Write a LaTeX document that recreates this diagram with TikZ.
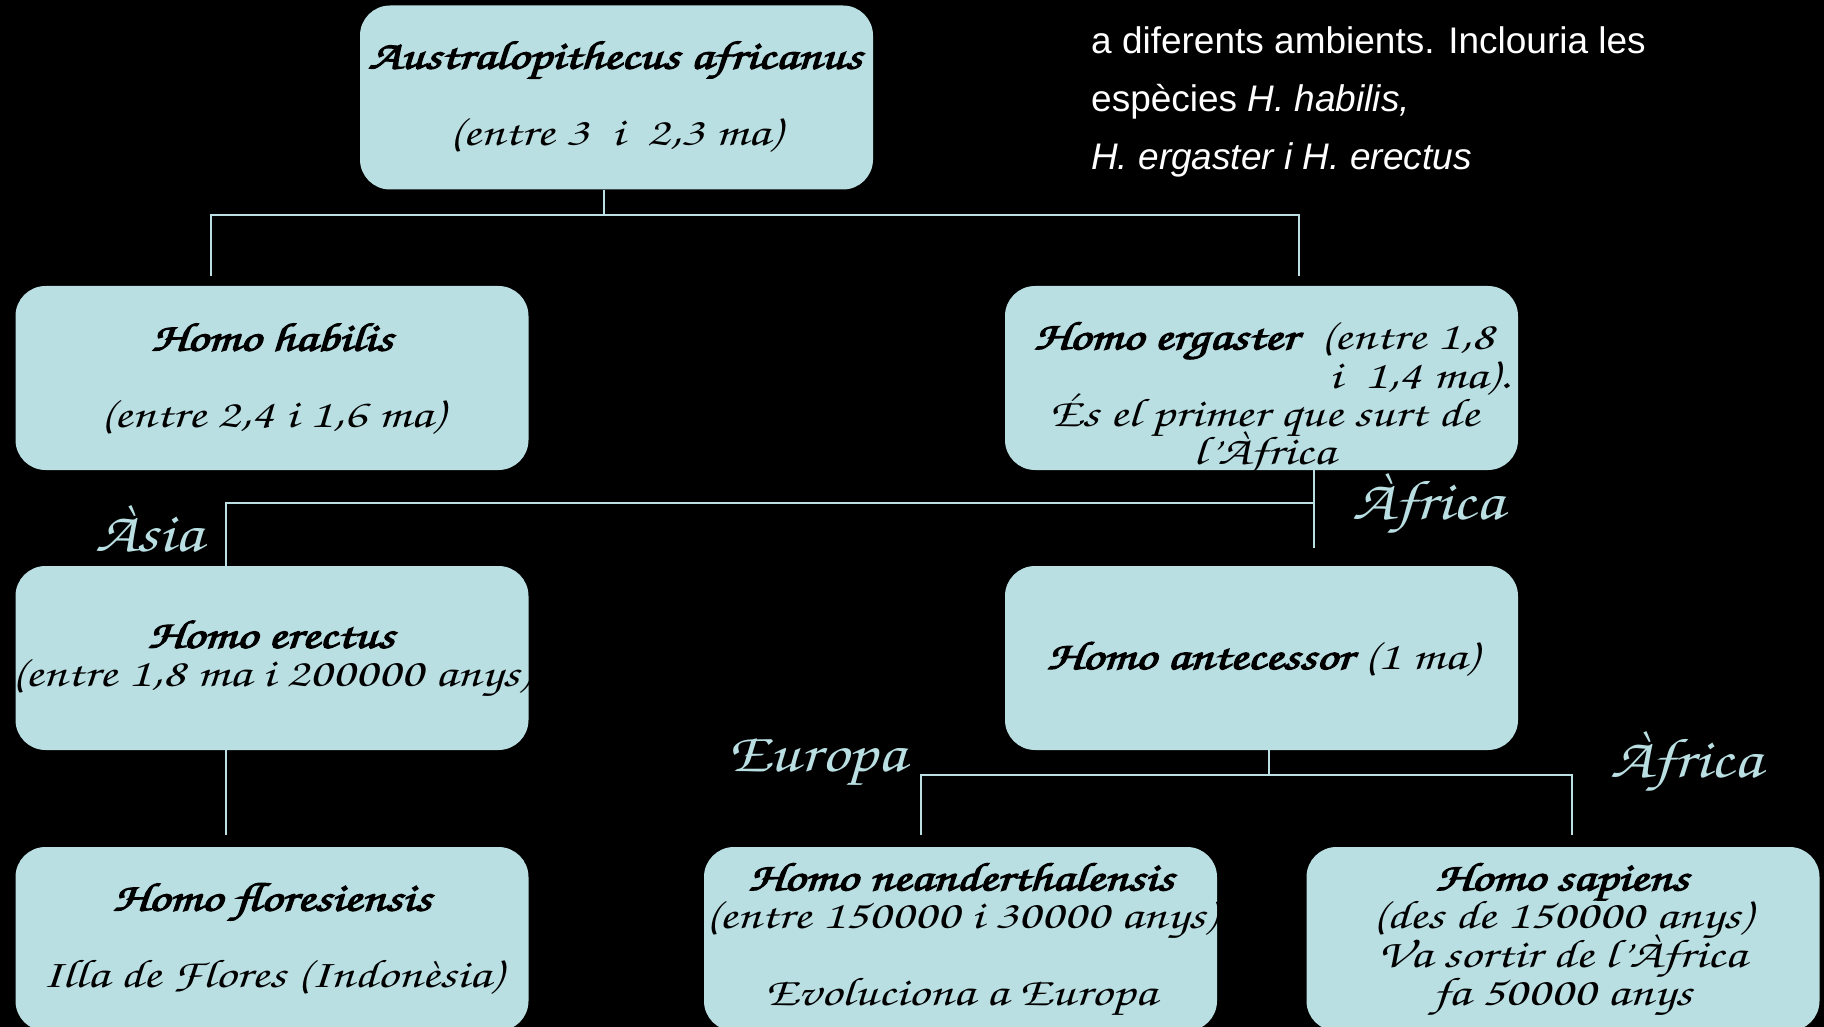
\documentclass[tikz,border=0pt]{standalone}
\usepackage[T1,TU]{fontenc}
\usepackage{fontspec}
\setmainfont{Liberation Sans}
\usepackage{graphicx}
\definecolor{lb}{RGB}{185,223,227}
\newcommand\hwfont{\usefont{T1}{pzc}{mb}{it}}
\newcommand\fb[1]{\special{pdf:literal direct 2 Tr 1.1 w}#1\special{pdf:literal direct 0 Tr}}
\newcommand\sx[1]{\scalebox{1.3}[1]{\vbox{\baselineskip=38.5pt\lineskiplimit=-200pt\lineskip=0pt\halign{\hfil##\hfil\cr#1\crcr}}}}
\newcommand\slab[1]{\scalebox{1.2}[1]{#1}}
\tikzset{
  box/.style={fill=lb, rounded corners=30pt, minimum width=513pt, minimum height=184pt, inner sep=0pt},
  conn/.style={draw=lb, line width=2pt},
  txt/.style={font={\fontsize{40}{38.5}\hwfont}, text=black, inner sep=0pt},
  lab/.style={font={\fontsize{56}{60}\hwfont}, text=lb, inner sep=0pt},
  rt/.style={font={\fontsize{37}{44}\selectfont}, text=white, inner sep=0pt}
}
\begin{document}
\begin{tikzpicture}[x=1pt,y=-1pt]
\fill[black] (0,0) rectangle (1824,1027);
\useasboundingbox (0,0) rectangle (1824,1027);

% boxes
\node[box] (austr) at (616.5,97.5) {};
\node[box] (habilis) at (272,378) {};
\node[box] (ergaster) at (1261.5,378) {};
\node[box] (erectus) at (272,658) {};
\node[box] (antecessor) at (1261.5,658) {};
\node[box] (flores) at (272,939) {};
\node[box] (neander) at (960.5,939) {};
\node[box] (sapiens) at (1563,939) {};

% texts
\node[txt] (taustr) at (615,97) {\sx{\fb{Australopithecus africanus}\cr\cr(entre 3\ \ i\ \ 2,3 ma)}};
\node[txt] (thabilis) at (272,379) {\sx{\fb{Homo habilis}\cr\cr(entre 2,4 i 1,6 ma)}};
\node[txt] (tergaster) at (1264,399) {\sx{\fb{Homo ergaster}\ \ (entre 1,8\cr\cr És el primer que surt de\cr l'Àfrica}};
\node[txt, anchor=mid east] (tergaster2) at (1510,386) {\sx{i\ \ 1,4 ma).}};
\node[txt] (terectus) at (271,659) {\sx{\fb{Homo erectus}\cr(entre 1,8 ma i 200000 anys)}};
\node[txt] (tantecessor) at (1262,659) {\sx{\fb{Homo antecessor} (1 ma)}};
\node[txt] (tflores) at (272,939) {\sx{\fb{Homo floresiensis}\cr\cr Illa de Flores (Indonèsia)}};
\node[txt] (tneander) at (961,940) {\sx{\fb{Homo neanderthalensis}\cr(entre 150000 i 30000 anys)\cr\cr Evoluciona a Europa}};
\node[txt] (tsapiens) at (1562,940) {\sx{\fb{Homo sapiens}\cr(des de 150000 anys)\cr Va sortir de l'Àfrica\cr fa 50000 anys}};

% connectors
\coordinate (a1) at (604,215);
\coordinate (h1) at (211,276);
\coordinate (h2) at (1299,276);
\draw[conn] (austr.south -| a1) -- (a1);
\draw[conn] (h1) |- (a1) -| (h2);

\coordinate (e1) at (1314,548);
\coordinate (e2) at (226,503);
\draw[conn] (ergaster.south -| e1) -- (e1);
\draw[conn] (e2 -| e1) -- (e2) -- (erectus.north -| e2);

\coordinate (f1) at (226,835);
\draw[conn] (erectus.south -| f1) -- (f1);

\coordinate (n0) at (1269,775);
\coordinate (n1) at (921,835);
\coordinate (n2) at (1572,835);
\draw[conn] (antecessor.south -| n0) -- (n0);
\draw[conn] (n1) |- (n0) -| (n2);

% labels
\node[lab] (lasia) at (149,528) {\slab{Àsia}};
\node[lab] (lafrica1) at (1428,505) {\slab{Àfrica}};
\node[lab] (leuropa) at (817,763) {\slab{Europa}};
\node[lab] (lafrica2) at (1686,763) {\slab{Àfrica}};

% right text
\node[rt, anchor=base west] (t1) at (1091,53.5) {a diferents ambients. Inclouria les};
\node[rt, anchor=base west] (t2) at (1091,111.7) {espècies \textit{H. habilis,}};
\node[rt, anchor=base west] (t3) at (1091,170) {\textit{H. ergaster i H. erectus}};
\end{tikzpicture}
\end{document}
